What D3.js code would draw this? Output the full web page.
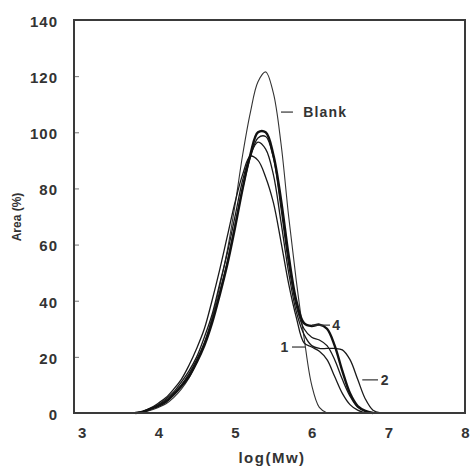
<!DOCTYPE html>
<html>
<head>
<meta charset="utf-8">
<script src="https://cdn.jsdelivr.net/npm/d3@7"></script>
<style>
  html, body { margin: 0; padding: 0; background: #fff; }
  svg { display: block; }
  text { font-family: "Liberation Sans", Arial, sans-serif; fill: #333; }
</style>
</head>
<body>
<svg id="chart" width="470" height="468"></svg>
<script>
// log(Mw) sampling grid shared by all traces
const logMw = [3.7, 3.8, 3.9, 4.0, 4.1, 4.2, 4.3, 4.4, 4.5, 4.6, 4.7, 4.8, 4.9, 5.0, 5.1, 5.2,
               5.3, 5.4, 5.5, 5.6, 5.7, 5.8, 5.9, 6.0, 6.1, 6.2, 6.3, 6.4, 6.5, 6.6, 6.7, 6.8, 6.9];

// Area (%) of each trace at the grid points (null = outside the trace)
const blank   = [0, 0.3, 1, 2, 3.3, 5.5, 8.5, 12.5, 18, 25, 34, 45, 58, 74, 92, 107,
                 118, 121.5, 114, 96, 70, 47, 27, 10, 2, 0, null, null, null, null, null, null, null];
const sample1 = [0, 0.6, 1.8, 3.5, 5.5, 8.5, 12, 17, 23, 30, 40, 51, 63, 75, 85, 91.5,
                 90, 84, 75, 61, 46, 34, 25, 23.5, 22, 19, 13, 7, 3, 1, 0, null, null];
const sample2 = [0, 0.5, 1.6, 3, 5, 7.5, 11, 15, 20, 27, 35, 46, 57, 70, 83, 92,
                 96.5, 94, 85, 68, 50, 36, 28, 24, 23, 23, 23, 22.5, 19, 12, 5, 1, 0];
const sample3 = [0, 0.5, 1.5, 2.8, 4.5, 7, 10, 14, 19, 25, 33, 43, 54, 67, 80, 91,
                 98, 98.5, 91, 73, 53, 38, 30, 27, 26, 24, 19, 12, 6, 2, 0.5, 0, null];
const sample4 = [0, 0.5, 1.5, 2.5, 4, 6.5, 9.5, 13, 18, 24, 32, 42, 53, 66, 80, 92,
                 100, 100, 92, 76, 56, 40, 32, 31, 31.5, 30, 24, 15, 7, 2.5, 0.8, 0, null];

const xTicks = [3, 4, 5, 6, 7, 8];
const yTicks = [0, 20, 40, 60, 80, 100, 120, 140];

// Curve labels with short leader lines (data coordinates)
const labels = [
  { text: "Blank", x1: 5.60, x2: 5.756, y: 107.2, tx: 5.89, anchor: "start" },
  { text: "4",     x1: 6.004, x2: 6.239, y: 31.3, tx: 6.27, anchor: "start" },
  { text: "1",     x1: 5.913, x2: 5.743, y: 23.5, tx: 5.71, anchor: "end" },
  { text: "2",     x1: 6.66,  x2: 6.865, y: 11.8, tx: 6.90, anchor: "start" }
];

const svg = d3.select("#chart");
const plotL = 74, plotR = 465, plotT = 20, plotB = 413;

const x = d3.scaleLinear().domain([2.9, 8]).range([plotL, plotR]);
const y = d3.scaleLinear().domain([0, 140]).range([plotB, plotT]);

// traces
const series = [
  { values: blank,   width: 1.1, color: "#333" },
  { values: sample1, width: 1.3, color: "#1a1a1a" },
  { values: sample2, width: 1.3, color: "#1a1a1a" },
  { values: sample3, width: 1.3, color: "#1a1a1a" },
  { values: sample4, width: 2.4, color: "#111" }
];

const line = d3.line()
  .defined(d => d[1] !== null)
  .x(d => x(d[0]))
  .y(d => y(d[1]))
  .curve(d3.curveCatmullRom.alpha(0.5));

svg.append("g").selectAll("path")
  .data(series)
  .join("path")
  .attr("d", s => line(logMw.map((v, i) => [v, s.values[i]])))
  .attr("fill", "none")
  .attr("stroke", s => s.color)
  .attr("stroke-width", s => s.width)
  .attr("stroke-linejoin", "round");

// y axis (ticks point inward)
const yAxis = svg.append("g")
  .attr("transform", `translate(${plotL},0)`)
  .call(d3.axisLeft(y).tickValues(yTicks).tickSize(-5).tickPadding(16));
yAxis.select(".domain").remove();
yAxis.selectAll("line").attr("stroke", "#777").attr("stroke-width", 1);
yAxis.selectAll("text")
  .attr("dy", "0.42em")
  .style("font-size", "15px").style("font-weight", "bold")
  .style("letter-spacing", "1px").style("fill", "#333");

// x axis
const xAxis = svg.append("g")
  .attr("transform", `translate(0,${plotB})`)
  .call(d3.axisBottom(x).tickValues(xTicks).tickFormat(d3.format("d")).tickSize(0).tickPadding(14));
xAxis.select(".domain").remove();
xAxis.selectAll("text")
  .style("font-size", "15px").style("font-weight", "bold").style("fill", "#333");

// plot frame
svg.append("rect")
  .attr("x", plotL).attr("y", plotT)
  .attr("width", plotR - plotL).attr("height", plotB - plotT)
  .attr("fill", "none").attr("stroke", "#3a3a3a").attr("stroke-width", 2);

// axis titles
svg.append("text")
  .attr("x", 272).attr("y", 463)
  .attr("text-anchor", "middle")
  .style("font-size", "15px").style("font-weight", "bold").style("letter-spacing", "1.5px")
  .text("log(Mw)");

svg.append("text")
  .attr("transform", "translate(21,217) rotate(-90)")
  .attr("text-anchor", "middle")
  .style("font-size", "12px").style("font-weight", "bold")
  .text("Area (%)");

// curve labels
const lab = svg.append("g");
lab.selectAll("line")
  .data(labels)
  .join("line")
  .attr("x1", d => x(d.x1)).attr("x2", d => x(d.x2))
  .attr("y1", d => y(d.y)).attr("y2", d => y(d.y))
  .attr("stroke", "#333").attr("stroke-width", 1.2);
lab.selectAll("text")
  .data(labels)
  .join("text")
  .attr("x", d => x(d.tx)).attr("y", d => y(d.y))
  .attr("dy", "0.36em")
  .attr("text-anchor", d => d.anchor)
  .style("font-size", "14px").style("font-weight", "bold").style("letter-spacing", "1.2px")
  .text(d => d.text);
</script>
</body>
</html>
